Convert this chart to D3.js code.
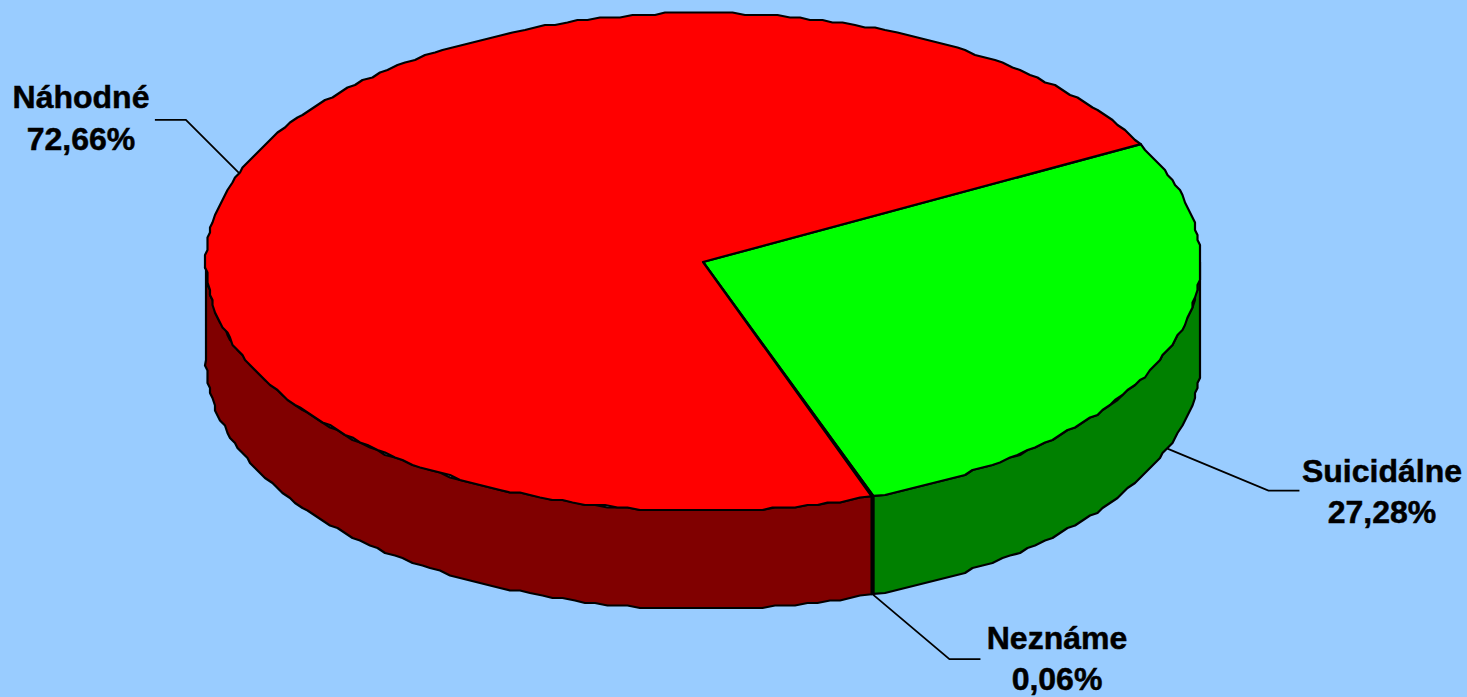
<!DOCTYPE html>
<html><head><meta charset="utf-8">
<script src="https://cdn.jsdelivr.net/npm/d3@7"></script>
<style>html,body{margin:0;padding:0;background:#99ccff;overflow:hidden}svg{display:block}
text{font-family:"Liberation Sans",Arial,sans-serif;font-weight:700;font-size:32px;fill:#000;stroke:#000;stroke-width:.5px;text-anchor:middle}</style>
</head><body><svg id="c" width="1467" height="697"></svg>
<script>
const categories = ["Suicidálne", "Neznáme", "Náhodné"];
const values = [27.28, 0.06, 72.66];
const valueLabels = ["27,28%", "0,06%", "72,66%"];
const topColors = ["#00ff00", "#ffff00", "#ff0000"];
const sideColors = ["#008000", "#808000", "#800000"];

const W = 1467, H = 697, cx = 703, cy = 262, rx = 497, ry = 249, depth = 98;
const x = d3.scaleLinear().domain([-1, 1]).range([cx - rx, cx + rx]);
const y = d3.scaleLinear().domain([-1, 1]).range([cy + ry, cy - ry]);
const START = 61.75 * Math.PI / 180;
const slices = d3.pie().sort(null).startAngle(START).endAngle(START + 2 * Math.PI)(values);

const grid = 2.5;
const snap = v => Math.round(v / grid) * grid;
const exact = a => [x(Math.sin(a)), y(Math.cos(a))];
const px = a => exact(a).map(snap);
function arcPts(a0, a1, dy = 0) {
  const n = Math.max(1, Math.ceil(Math.abs(a1 - a0) / (1.3 * Math.PI / 180)));
  return d3.range(n + 1).map(i => {
    const t = a0 + (a1 - a0) * i / n;
    const p = (i === 0 || i === n) ? exact(t) : px(t);
    return [p[0], p[1] + dy];
  });
}
const line = d3.line();
const svg = d3.select("#c");
svg.append("rect").attr("width", W).attr("height", H).attr("fill", "#99ccff");

const FRONT0 = Math.PI / 2, FRONT1 = 3 * Math.PI / 2;
// walls: the front half of the disc, in each slice's darker colour
slices.forEach((s, i) => {
  const a0 = Math.max(s.startAngle, FRONT0), a1 = Math.min(s.endAngle, FRONT1);
  if (a1 <= a0) return;
  const pts = arcPts(a0, a1, 0).concat(arcPts(a1, a0, depth));
  svg.append("path").attr("d", line(pts) + "Z")
    .attr("fill", sideColors[i]).attr("stroke", "#000").attr("stroke-width", 2.2).attr("stroke-linejoin", "round");
});
// tops
slices.forEach((s, i) => {
  const pts = [[cx, cy]].concat(arcPts(s.startAngle, s.endAngle));
  svg.append("path").attr("d", line(pts) + "Z")
    .attr("fill", topColors[i]).attr("stroke", "#000").attr("stroke-width", 2.2).attr("stroke-linejoin", "round");
});

// label layout, in draw order of categories
const leaderBend = [[101, 42], [77, 65], [-53, -53]];
const leaderEnd = [[31, 0], [31, 0], [-31, 0]];
const labelPos = [[1382, 482], [1057, 649], [81, 108]];
const lineGap = [41, 41, 42];
slices.forEach((s, i) => {
  const mid = (s.startAngle + s.endAngle) / 2;
  const onFront = Math.cos(mid) < 0;
  const p = exact(mid);
  const p0 = [p[0], p[1] + (onFront ? depth : 0)];
  const p1 = [p0[0] + leaderBend[i][0], p0[1] + leaderBend[i][1]];
  const p2 = [p1[0] + leaderEnd[i][0], p1[1] + leaderEnd[i][1]];
  svg.append("path").attr("d", line([p0, p1, p2])).attr("fill", "none").attr("stroke", "#000").attr("stroke-width", 1.8);
  svg.append("text").attr("x", labelPos[i][0]).attr("y", labelPos[i][1]).text(categories[i]);
  svg.append("text").attr("x", labelPos[i][0]).attr("y", labelPos[i][1] + lineGap[i]).text(valueLabels[i]);
});
</script></body></html>
